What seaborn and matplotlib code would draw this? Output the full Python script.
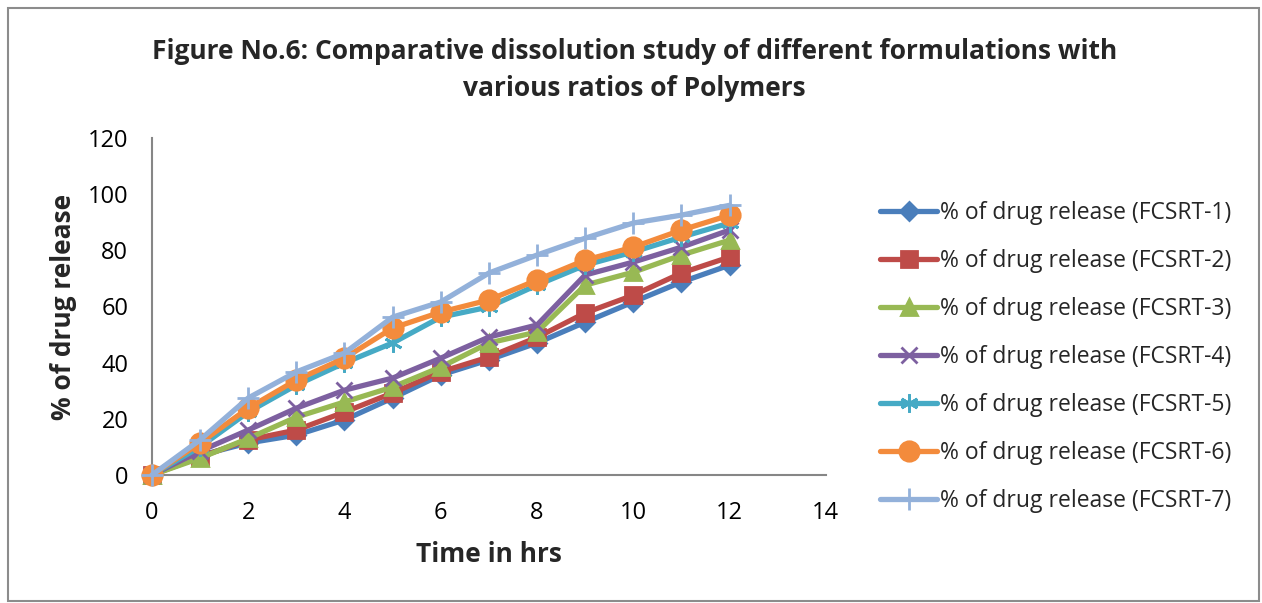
import matplotlib
matplotlib.use("Agg")
import matplotlib.pyplot as plt
import seaborn as sns
import pandas as pd
from matplotlib.patches import Rectangle

time_hrs = [0, 1, 2, 3, 4, 5, 6, 7, 8, 9, 10, 11, 12]
fcsrt_1 = [0, 7.0, 11.4, 14.2, 19.6, 27.4, 35.6, 41.0, 47.0, 54.4, 61.6, 68.7, 74.7]
fcsrt_2 = [0, 6.4, 12.5, 16.0, 22.4, 29.2, 36.7, 42.0, 49.0, 57.7, 64.0, 71.9, 77.6]
fcsrt_3 = [0, 6.0, 13.0, 20.6, 26.0, 31.3, 38.4, 47.0, 50.9, 67.6, 72.2, 78.3, 83.6]
fcsrt_4 = [0, 8.5, 16.0, 23.8, 30.2, 34.5, 41.6, 49.1, 53.4, 71.2, 75.8, 81.1, 87.2]
fcsrt_5 = [0, 10.0, 22.4, 32.0, 39.9, 47.0, 56.2, 59.8, 67.6, 74.7, 79.4, 84.7, 89.7]
fcsrt_6 = [0, 11.4, 23.8, 33.8, 41.6, 52.3, 58.0, 62.3, 69.4, 76.5, 81.1, 87.2, 92.5]
fcsrt_7 = [0, 12.5, 27.4, 36.7, 43.4, 56.2, 61.6, 71.9, 78.3, 84.3, 89.7, 92.5, 96.0]

series_labels = [
    "% of drug release (FCSRT-1)",
    "% of drug release (FCSRT-2)",
    "% of drug release (FCSRT-3)",
    "% of drug release (FCSRT-4)",
    "% of drug release (FCSRT-5)",
    "% of drug release (FCSRT-6)",
    "% of drug release (FCSRT-7)",
]
series_values = [fcsrt_1, fcsrt_2, fcsrt_3, fcsrt_4, fcsrt_5, fcsrt_6, fcsrt_7]

colors = ["#4A7EBB", "#BE4B48", "#98B954", "#7D60A0", "#46AAC5", "#F38B3C", "#93B1DA"]
markers = ["D", "s", "^", "x", (6, 2, 0), "o", "+"]
msizes = [9, 12, 12, 12, 13, 14, 16]

sns.set_theme(style="white")
plt.rcParams["font.family"] = ["Open Sans", "DejaVu Sans"]

fig = plt.figure(figsize=(12.62, 6.03), dpi=100)
ax = fig.add_axes([0.1204, 0.2123, 0.534, 0.559])

for lab, vals, c, m, ms in zip(series_labels, series_values, colors, markers, msizes):
    df = pd.DataFrame({"t": time_hrs, "v": vals})
    sns.lineplot(data=df, x="t", y="v", ax=ax, color=c, marker=m, markersize=ms,
                 markeredgecolor=c, markerfacecolor=c, markeredgewidth=2,
                 linewidth=3.8, label=lab, clip_on=False)

ax.set_xlim(0, 14)
ax.set_ylim(0, 120)
ax.set_xticks(range(0, 15, 2))
ax.set_yticks(range(0, 121, 20))
ax.tick_params(axis="both", labelsize=17, length=0, labelcolor="black")
ax.tick_params(axis="x", pad=19)
ax.tick_params(axis="y", pad=17)
for s in ["top", "right"]:
    ax.spines[s].set_visible(False)
for s in ["left", "bottom"]:
    ax.spines[s].set_color("#868686")
    ax.spines[s].set_linewidth(1.5)
    ax.spines[s].set_zorder(0.5)
ax.set_xlabel("Time in hrs", fontsize=19, fontweight="bold", labelpad=11)
ax.set_ylabel("% of drug release", fontsize=19, fontweight="bold", labelpad=8)

fig.suptitle("Figure No.6: Comparative dissolution study of different formulations with\nvarious ratios of Polymers",
             x=0.503, y=0.937, fontsize=19, fontweight="bold", linespacing=1.5)

leg = ax.legend(loc="center left", bbox_to_anchor=(1.05, 0.35), frameon=False,
                fontsize=16.5, handlelength=2.5, handletextpad=0.1, labelspacing=1.05)

fig.patches.append(Rectangle((0.006, 0.003), 0.992, 0.984, transform=fig.transFigure,
                             fill=False, edgecolor="#8C8C8C", linewidth=1.5))

fig.savefig("out.png", dpi=100)
